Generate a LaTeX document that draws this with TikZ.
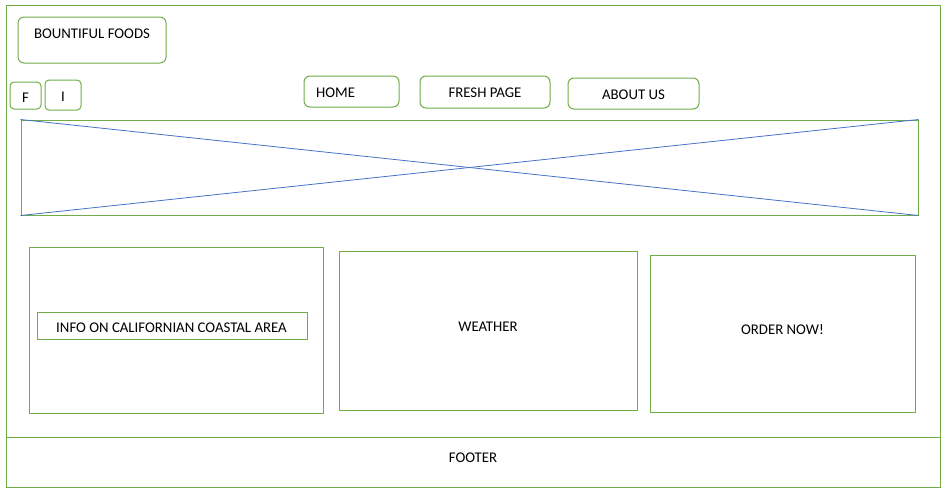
\documentclass[tikz,border=0pt]{standalone}
\usepackage{fontspec}
\setmainfont{Carlito}
\definecolor{wiregreen}{RGB}{112,173,71}
\definecolor{wireblue}{RGB}{68,114,196}
\tikzset{
  wirebox/.style = {draw = wiregreen, line width = 1pt, inner sep = 0pt},
  wiretab/.style = {wirebox, rounded corners = 6pt},
  wiretext/.style = {font = \fontsize{14.8}{17}\selectfont, inner sep = 0pt}
}
\begin{document}
\begin{tikzpicture}[x = 1pt, y = -1pt]
\useasboundingbox (0,0) rectangle (948,493);
% page frame and footer
\node[wirebox, minimum width = 934pt, minimum height = 482pt] (page) at (473,246) {};
\node[wirebox, minimum width = 934pt, minimum height = 50pt] (footer) at (473,462) {};
\node[wiretext] (footertext) at (473,458) {FOOTER};
% header
\node[wiretab, minimum width = 148pt, minimum height = 46pt] (logo) at (92,40) {};
\node[wiretext] (logotext) at (92,34) {BOUNTIFUL FOODS};
\node[wiretab, rounded corners = 4pt, minimum width = 31pt, minimum height = 27pt] (fb) at (25.5,95.5) {};
\node[wiretext] (fbtext) at (25.5,97.5) {F};
\node[wiretab, rounded corners = 4pt, minimum width = 36pt, minimum height = 30pt] (ig) at (63,95) {};
\node[wiretext] (igtext) at (63,96.5) {I};
\node[wiretab, minimum width = 95pt, minimum height = 31pt] (home) at (351.5,91.5) {};
\node[wiretext, anchor = west] (hometext) at (316,93) {HOME};
\node[wiretab, minimum width = 130pt, minimum height = 32pt] (fresh) at (485,92) {};
\node[wiretext] (freshtext) at (485,93) {FRESH PAGE};
\node[wiretab, minimum width = 131pt, minimum height = 31pt] (about) at (633.5,93.5) {};
\node[wiretext] (abouttext) at (633.5,95) {ABOUT US};
% banner image
\node[wirebox, minimum width = 897pt, minimum height = 95pt] (banner) at (469.5,167.5) {};
\draw[wireblue, line width = 0.8pt] (banner.north west) -- (banner.south east);
\draw[wireblue, line width = 0.8pt] (banner.south west) -- (banner.north east);
% content boxes
\foreach \name/\cx/\cy/\w/\h in {info/176/330/294/166, weather/488/330.5/298/159, order/782.5/333.5/265/157}
  \node[wirebox, minimum width = \w pt, minimum height = \h pt] (\name) at (\cx,\cy) {};
\node[wiretext] (weathertext) at (488,326.5) {WEATHER};
\node[wiretext] (ordertext) at (782.5,329.5) {ORDER NOW!};
\node[wirebox, minimum width = 270pt, minimum height = 27pt] (coast) at (172,325.5) {};
\node[wiretext] (coasttext) at (171.5,328) {INFO ON CALIFORNIAN COASTAL AREA};
\end{tikzpicture}
\end{document}
